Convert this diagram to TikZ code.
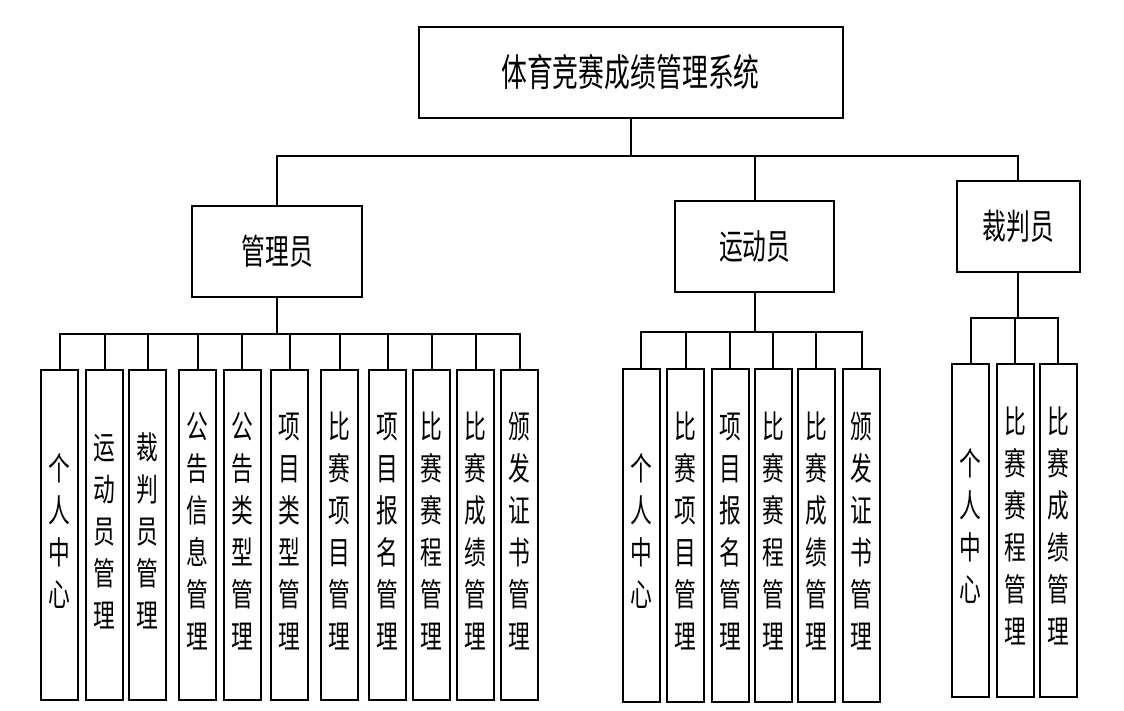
\documentclass[tikz,border=0pt]{standalone}
\usepackage{fontspec}
\usepackage{graphicx}
\newfontfamily\cjk{Noto Sans CJK SC}
\tikzset{
	rolebox/.style={draw, line width=2pt, inner sep=0pt, minimum height=91pt},
	leafbox/.style={draw, line width=2pt, inner sep=0pt, minimum width=37pt},
	link/.style={line width=2pt}
}
\newcommand{\vtxt}[1]{\scalebox{0.68}[1]{\fontsize{32}{42}\selectfont\begin{tabular}{@{}c@{}}#1\end{tabular}}}
\newcommand{\htxt}[2]{\scalebox{0.68}[1]{\fontsize{#1}{#1}\selectfont #2}}

\begin{document}
\begin{tikzpicture}[x=1pt, y=-1pt, font=\cjk]
	\useasboundingbox (0,0) rectangle (1124,711);

	\node[rolebox, minimum width=424pt] (sys) at (630.5,72.5) {\htxt{38}{体育竞赛成绩管理系统}};
	\node[rolebox, minimum width=170pt] (admin) at (277.3,251.3) {\htxt{35}{管理员}};
	\node[rolebox, minimum width=159pt] (ath) at (754.7,246.7) {\htxt{35}{运动员}};
	\node[rolebox, minimum width=123pt] (ref) at (1018.3,226.3) {\htxt{35}{裁判员}};

	\foreach \r in {admin, ath, ref}
		\draw[link] (sys.south) -- ++(0,37) -| (\r.north);

	% admin
	\foreach \x/\lab [count=\i] in {59.5/个\\人\\中\\心, 104.5/运\\动\\员\\管\\理,
		147.5/裁\\判\\员\\管\\理, 197.5/公\\告\\信\\息\\管\\理, 242/公\\告\\类\\型\\管\\理,
		289.5/项\\目\\类\\型\\管\\理, 339.5/比\\赛\\项\\目\\管\\理, 387.5/项\\目\\报\\名\\管\\理,
		431.5/比\\赛\\赛\\程\\管\\理, 475.5/比\\赛\\成\\绩\\管\\理, 519.5/颁\\发\\证\\书\\管\\理}
	{
		\node[leafbox, minimum height=330pt] (a\i) at (\x,535) {\vtxt{\lab}};
		\draw[link] (admin.south) -- ++(0,36) -| (a\i.north);
	}

	% athlete
	\foreach \x/\lab [count=\i] in {641/个\\人\\中\\心, 685.7/比\\赛\\项\\目\\管\\理,
		730.3/项\\目\\报\\名\\管\\理, 773.3/比\\赛\\赛\\程\\管\\理,
		816.3/比\\赛\\成\\绩\\管\\理, 861.7/颁\\发\\证\\书\\管\\理}
	{
		\node[leafbox, minimum height=333pt] (b\i) at (\x,535.3) {\vtxt{\lab}};
		\draw[link] (ath.south) -- ++(0,39) -| (b\i.north);
	}

	% referee
	\foreach \x/\lab [count=\i] in {970.5/个\\人\\中\\心, 1015/比\\赛\\赛\\程\\管\\理,
		1058/比\\赛\\成\\绩\\管\\理}
	{
		\node[leafbox, minimum height=333pt] (c\i) at (\x,530.3) {\vtxt{\lab}};
		\draw[link] (ref.south) -- ++(0,45) -| (c\i.north);
	}

\end{tikzpicture}
\end{document}
